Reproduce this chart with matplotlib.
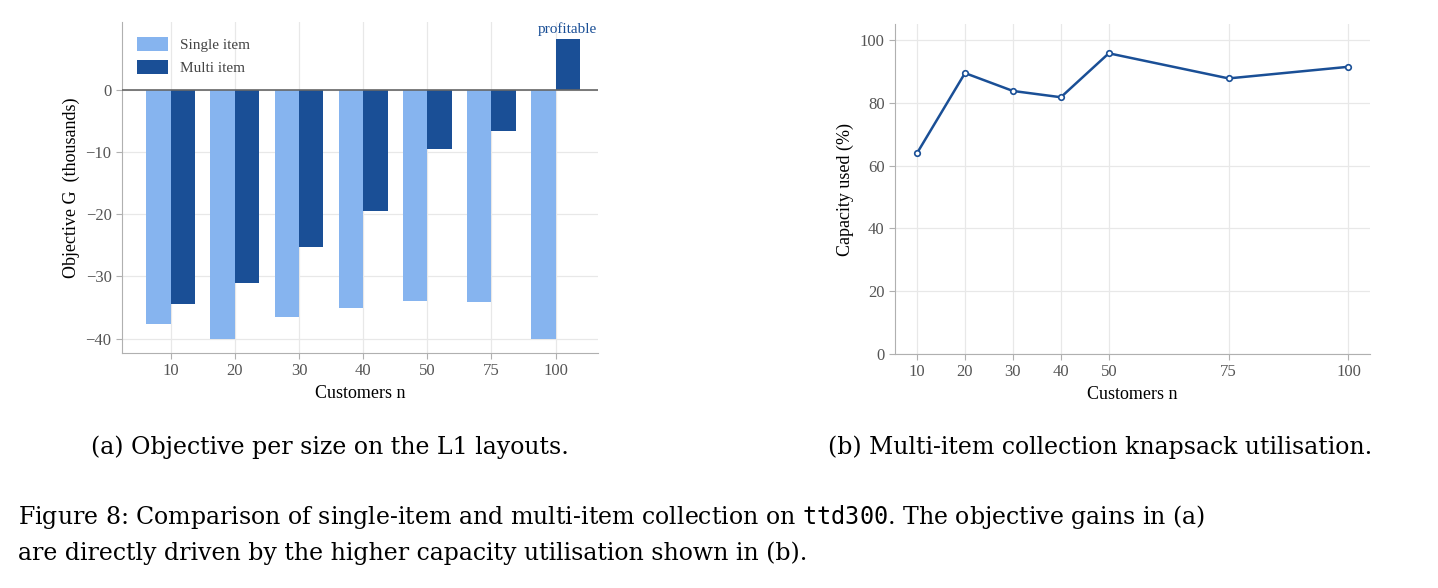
import matplotlib
matplotlib.use("Agg")
import matplotlib.pyplot as plt
import numpy as np

customers = ["10", "20", "30", "40", "50", "75", "100"]
single_item = [-37.7, -40.1, -36.5, -35.0, -34.0, -34.1, -40.1]
multi_item = [-34.5, -31.0, -25.2, -19.5, -9.6, -6.7, 8.2]
cap_n = [10, 20, 30, 40, 50, 75, 100]
capacity_used = [64.0, 89.5, 83.8, 81.8, 95.8, 87.8, 91.5]

plt.rcParams['font.family'] = ['Liberation Serif', 'DejaVu Serif']
light = "#86b4ef"
dark = "#1a4f96"
grid_c = "#e8e8e8"
spine_c = "#b0b0b0"
tick_c = "#555555"

fig = plt.figure(figsize=(14.38, 5.88), dpi=100)

# (a)
ax1 = fig.add_axes([0.0848, 0.3997, 0.331, 0.563])
x = np.arange(len(customers))
w = 0.38
ax1.bar(x - w/2, single_item, w, color=light, label="Single item", zorder=2)
ax1.bar(x + w/2, multi_item, w, color=dark, label="Multi item", zorder=2)
ax1.axhline(0, color="#666666", lw=1.2, zorder=3)
ax1.set_xlim(-0.76, 6.66)
ax1.set_ylim(-42.3, 10.9)
ax1.set_yticks([0, -10, -20, -30, -40])
ax1.set_yticklabels(["0", "−10", "−20", "−30", "−40"])
ax1.set_xticks(x)
ax1.set_xticklabels(customers)
ax1.set_xlabel("Customers n", fontsize=13)
ax1.set_ylabel("Objective G  (thousands)", fontsize=13)
ax1.text(x[-1] + w/2, multi_item[-1] + 0.4, "profitable", color=dark,
         ha="center", va="bottom", fontsize=11)
ax1.legend(loc="upper left", frameon=False, fontsize=11, labelcolor="#444444",
           handlelength=2.0, handleheight=1.0, borderaxespad=0.6)

# (b)
ax2 = fig.add_axes([0.6224, 0.398, 0.330, 0.561])
ax2.plot(cap_n, capacity_used, color=dark, lw=1.8, marker="o", markersize=4,
         markerfacecolor="white", markeredgecolor=dark, markeredgewidth=1.2, zorder=3)
ax2.set_xlim(5.4, 104.4)
ax2.set_ylim(0, 105.1)
ax2.set_xticks(cap_n)
ax2.set_yticks([0, 20, 40, 60, 80, 100])
ax2.set_xlabel("Customers n", fontsize=13)
ax2.set_ylabel("Capacity used (%)", fontsize=13)

for ax in (ax1, ax2):
    ax.grid(True, color=grid_c, lw=0.9, zorder=0)
    ax.set_axisbelow(True)
    for s in ("top", "right"):
        ax.spines[s].set_visible(False)
    for s in ("left", "bottom"):
        ax.spines[s].set_color(spine_c)
    ax.tick_params(colors=spine_c, labelcolor=tick_c, labelsize=12, length=4)

cap_font = ['DejaVu Serif']
fig.text(330/1438, 1 - 447/588, "(a) Objective per size on the L1 layouts.",
         ha="center", va="center", fontsize=17, family=cap_font)
fig.text(1100/1438, 1 - 447/588, "(b) Multi-item collection knapsack utilisation.",
         ha="center", va="center", fontsize=17, family=cap_font)
fig.text(18/1438, 1 - 517/588,
         "Figure 8: Comparison of single-item and multi-item collection on $\\mathtt{ttd300}$. The objective gains in (a)",
         ha="left", va="center", fontsize=17, family=cap_font)
fig.text(18/1438, 1 - 553/588,
         "are directly driven by the higher capacity utilisation shown in (b).",
         ha="left", va="center", fontsize=17, family=cap_font)

fig.savefig("out.png", dpi=100)
